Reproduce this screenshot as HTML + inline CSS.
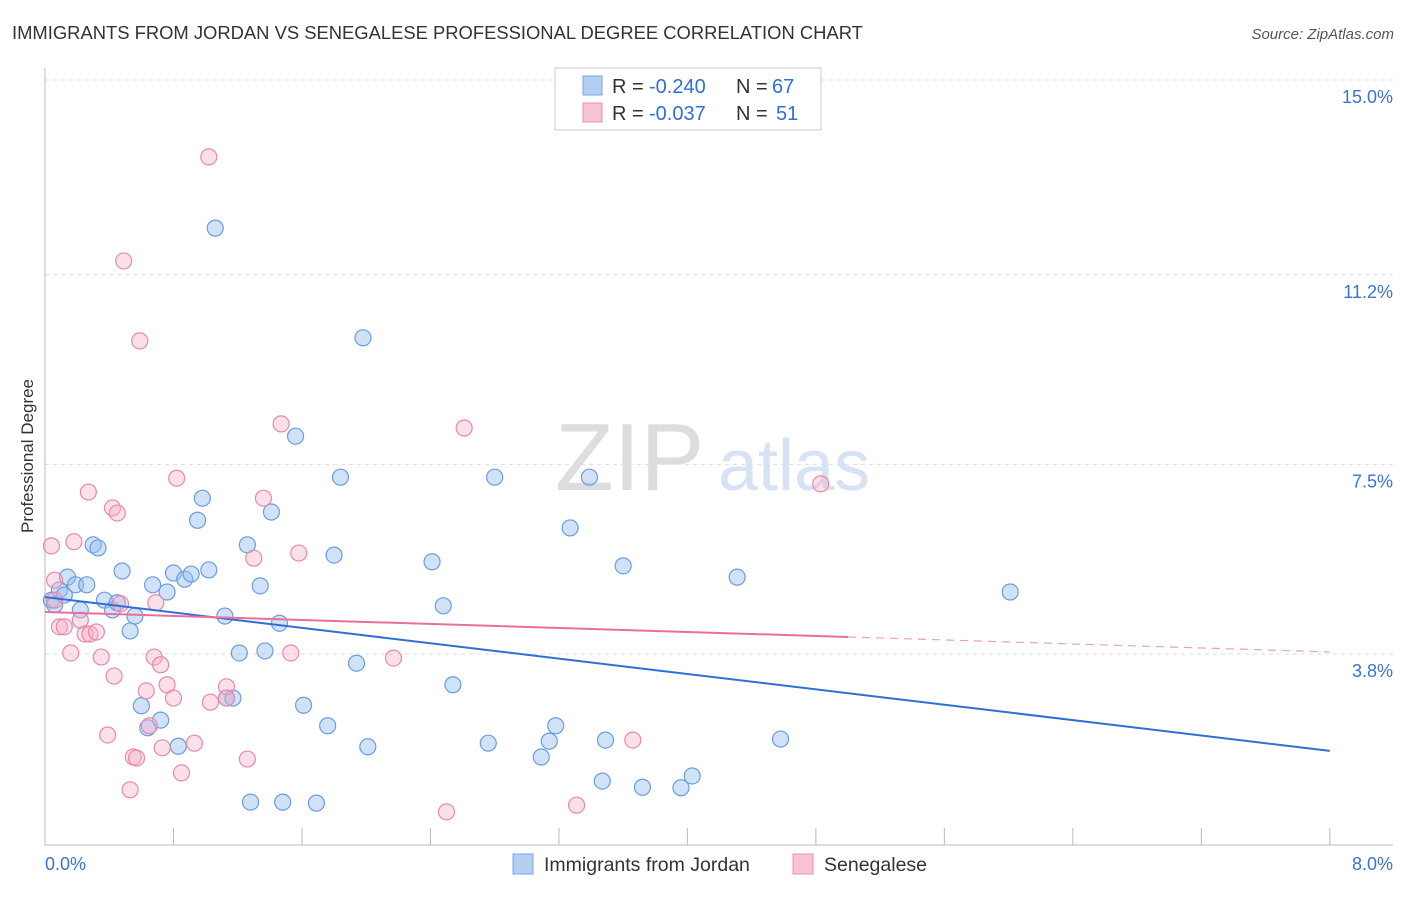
<!DOCTYPE html>
<html><head><meta charset="utf-8"><style>
body{margin:0;background:#fff;font-family:"Liberation Sans",sans-serif;}
svg text{font-family:"Liberation Sans",sans-serif;}
</style></head><body>
<svg id="chart" width="1406" height="892">
<text x="12" y="39" font-size="18.4" fill="#333">IMMIGRANTS FROM JORDAN VS SENEGALESE PROFESSIONAL DEGREE CORRELATION CHART</text>
<text x="1394" y="39" font-size="15" fill="#555" text-anchor="end" font-style="italic">Source: ZipAtlas.com</text>
<text x="33" y="456" font-size="17" fill="#333" text-anchor="middle" transform="rotate(-90 33 456)">Professional Degree</text>
<text x="555" y="490" font-size="96" fill="#ddd" font-family="Liberation Serif">ZIP</text>
<text x="718" y="490" font-size="72" fill="#d6e3f5">atlas</text>
<g id="grid"></g><g id="axes"></g><g id="pts"></g><g id="trends"></g>
<g>
<rect x="555" y="68" width="266" height="62" fill="#fff" stroke="#ccc"/>
<rect x="583" y="76" width="19" height="19" fill="#b3cff2" stroke="#7aa5e0"/>
<text x="612" y="93" font-size="20" fill="#333">R =</text>
<text x="649" y="93" font-size="20" fill="#2f6fd6">-0.240</text>
<text x="736" y="93" font-size="20" fill="#333">N =</text>
<text x="772" y="93" font-size="20" fill="#2f6fd6">67</text>
<rect x="583" y="103" width="19" height="19" fill="#f7c3d3" stroke="#e892ae"/>
<text x="612" y="120" font-size="20" fill="#333">R =</text>
<text x="649" y="120" font-size="20" fill="#2f6fd6">-0.037</text>
<text x="736" y="120" font-size="20" fill="#333">N =</text>
<text x="776" y="120" font-size="20" fill="#2f6fd6">51</text>
</g>
<g>
<rect x="513" y="854" width="20" height="20" fill="#b3cff2" stroke="#7aa5e0"/>
<text x="544" y="871" font-size="19.5" fill="#333">Immigrants from Jordan</text>
<rect x="793" y="854" width="20" height="20" fill="#f7c3d3" stroke="#e892ae"/>
<text x="824" y="871" font-size="19.5" fill="#333">Senegalese</text>
</g>
</svg>
<script>
const yTicks=[15.0,11.2,7.5,3.8];
const yTickLabels=["15.0%","11.2%","7.5%","3.8%"];
const xTicks=[0,0.8,1.6,2.4,3.2,4.0,4.8,5.6,6.4,7.2,8.0];
const xEndLabels=["0.0%","8.0%"];
const jordanX=[0.04,0.06,0.09,0.12,0.14,0.19,0.26,0.22,0.30,0.33,0.37,0.42,0.45,0.48,0.53,0.56,0.60,0.67,0.72,0.64,0.76,0.80,0.83,0.87,0.91,0.95,0.98,1.02,1.06,1.12,1.13,1.17,1.21,1.26,1.28,1.34,1.37,1.41,1.46,1.48,1.56,1.61,1.69,1.80,1.76,1.84,1.94,1.98,2.01,2.41,2.48,2.54,2.76,2.80,3.09,3.14,3.18,3.27,3.39,3.47,3.49,3.60,3.72,3.96,4.03,4.31,4.58,6.01];
const jordanY=[4.85,4.76,5.05,4.95,5.30,5.15,5.15,4.66,5.93,5.87,4.85,4.66,4.80,5.42,4.25,4.54,2.79,5.15,2.51,2.36,5.01,5.38,2.00,5.26,5.36,6.41,6.84,5.44,12.11,4.54,2.94,2.94,3.82,5.93,0.91,5.13,3.86,6.57,4.40,0.91,8.05,2.80,0.89,5.73,2.40,7.25,3.62,9.97,1.99,5.60,4.74,3.20,2.06,7.25,1.79,2.10,2.40,6.26,7.25,1.32,2.12,5.52,1.20,1.19,1.42,5.30,2.14,5.01];
const senX=[0.04,0.06,0.06,0.09,0.12,0.16,0.18,0.22,0.27,0.25,0.28,0.32,0.35,0.39,0.42,0.43,0.45,0.47,0.49,0.53,0.55,0.57,0.59,0.63,0.65,0.68,0.69,0.72,0.73,0.76,0.80,0.82,0.85,0.93,1.02,1.03,1.13,1.13,1.26,1.30,1.36,1.47,1.53,1.58,2.17,2.50,2.61,3.31,3.66,4.83];
const senY=[5.91,5.24,4.85,4.33,4.33,3.82,5.99,4.46,6.96,4.19,4.19,4.23,3.74,2.22,6.65,3.37,6.55,4.78,11.47,1.15,1.79,1.77,9.91,3.08,2.40,3.74,4.80,3.59,1.97,3.20,2.94,7.23,1.48,2.06,13.50,2.86,3.16,2.94,1.75,5.67,6.84,8.29,3.82,5.77,3.72,0.72,8.21,0.85,2.12,7.12];
const jordanTrend=[4.91,1.91]; // values at x=0 and x=8
const senTrend=[4.62,3.84];
const senSolidEnd=5.0;
const NS="http://www.w3.org/2000/svg";
const xs=v=>45+v*160.6, ys=v=>80+(15-v)*51.25;
function mk(t,a,p){const e=document.createElementNS(NS,t);for(const k in a)e.setAttribute(k,a[k]);document.getElementById(p).appendChild(e);return e;}
yTicks.forEach((t,i)=>{
 const l=mk('line',{x1:45,x2:1393,y1:ys(t),y2:ys(t),stroke:'#ddd','stroke-dasharray':'4,4'},'grid');
 
 
 const tx=mk('text',{x:1393,y:ys(t)+23,'font-size':18,fill:'#3b73d1','text-anchor':'end'},'axes');tx.textContent=yTickLabels[i];
 
 
});
const ax=mk('line',{x1:45,x2:1393,y1:845,y2:845,stroke:'#bbb'},'axes');


const ay=mk('line',{x1:45,x2:45,y1:68,y2:845,stroke:'#bbb'},'axes');


xTicks.forEach(t=>{const l=mk('line',{x1:xs(t),x2:xs(t),y1:828,y2:845,stroke:'#bbb'},'axes');
 
 });
let t1=mk('text',{x:45,y:870,'font-size':18,fill:'#3b73d1'},'axes');t1.textContent=xEndLabels[0];


let t2=mk('text',{x:1393,y:870,'font-size':18,fill:'#3b73d1','text-anchor':'end'},'axes');t2.textContent=xEndLabels[1];


jordanX.forEach((x,i)=>{const c=mk('circle',{cx:xs(x),cy:ys(jordanY[i]),r:8,fill:'rgba(150,190,240,0.45)',stroke:'#6b9de0','stroke-width':1.2},'pts');
 
 });
senX.forEach((x,i)=>{const c=mk('circle',{cx:xs(x),cy:ys(senY[i]),r:8,fill:'rgba(245,175,200,0.4)',stroke:'#e88aa8','stroke-width':1.2},'pts');
 
 });
const jl=mk('line',{x1:xs(0),y1:ys(jordanTrend[0]),x2:xs(8),y2:ys(jordanTrend[1]),stroke:'#2f6fd6','stroke-width':2},'trends');


const sm=senTrend[0]+(senTrend[1]-senTrend[0])*senSolidEnd/8;
const sl=mk('line',{x1:xs(0),y1:ys(senTrend[0]),x2:xs(senSolidEnd),y2:ys(sm),stroke:'#e8709a','stroke-width':2},'trends');


const sd=mk('line',{x1:xs(senSolidEnd),y1:ys(sm),x2:xs(8),y2:ys(senTrend[1]),stroke:'#e8a0b8','stroke-width':1.2,'stroke-dasharray':'8,6'},'trends');


</script>
</body></html>
